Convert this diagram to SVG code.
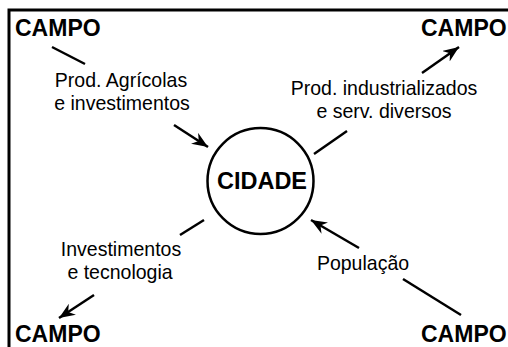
<svg xmlns="http://www.w3.org/2000/svg" width="508" height="347" viewBox="0 0 508 347">
<defs>
<style>
.frame{fill:none;stroke:#000;stroke-width:3}
.ln{fill:none;stroke:#000;stroke-width:2.5}
.node{font-family:"Liberation Sans",Arial,sans-serif;font-weight:bold;font-size:23px;fill:#000}
.city{font-family:"Liberation Sans",Arial,sans-serif;font-weight:bold;font-size:23.5px;fill:#000;text-anchor:middle}
.lbl{font-family:"Liberation Sans",Arial,sans-serif;font-size:21px;fill:#000;text-anchor:middle}
</style>
<marker id="ah" markerUnits="userSpaceOnUse" markerWidth="17" markerHeight="13" refX="16" refY="6.5" orient="auto">
<path d="M0,0 L16,6.5 L0,13 L5,6.5 z" fill="#000"/>
</marker>
</defs>
<rect width="508" height="347" fill="#fff"/>
<path class="frame" d="M9,347 V10 H508"/>
<g id="campo-tl"><text class="node" x="15" y="36">CAMPO</text></g>
<g id="campo-tr"><text class="node" x="421" y="36">CAMPO</text></g>
<g id="campo-bl"><text class="node" x="15" y="342">CAMPO</text></g>
<g id="campo-br"><text class="node" x="421" y="342">CAMPO</text></g>
<g id="cidade">
<circle cx="260.5" cy="181" r="53" fill="none" stroke="#000" stroke-width="2.5"/>
<text class="city" x="262" y="189">CIDADE</text>
</g>
<g id="labels">
<text class="lbl" transform="translate(121,87) scale(0.93,1)">Prod. Agrícolas</text>
<text class="lbl" transform="translate(122,110) scale(0.93,1)">e investimentos</text>
<text class="lbl" transform="translate(384,95) scale(0.93,1)">Prod. industrializados</text>
<text class="lbl" transform="translate(384,118) scale(0.93,1)">e serv. diversos</text>
<text class="lbl" transform="translate(121,256) scale(0.93,1)">Investimentos</text>
<text class="lbl" transform="translate(120,279) scale(0.93,1)">e tecnologia</text>
<text class="lbl" transform="translate(363,270) scale(0.93,1)">População</text>
</g>
<g id="connectors">
<line class="ln" x1="52" y1="47" x2="85" y2="64"/>
<line class="ln" x1="174" y1="125" x2="208" y2="147" marker-end="url(#ah)"/>
<line class="ln" x1="314" y1="154" x2="347" y2="131"/>
<line class="ln" x1="422" y1="73" x2="459" y2="47" marker-end="url(#ah)"/>
<line class="ln" x1="204" y1="220" x2="180" y2="235"/>
<line class="ln" x1="94" y1="295" x2="59" y2="318" marker-end="url(#ah)"/>
<line class="ln" x1="359" y1="248" x2="311" y2="220" marker-end="url(#ah)"/>
<line class="ln" x1="403" y1="279" x2="461" y2="315"/>
</g>
</svg>
